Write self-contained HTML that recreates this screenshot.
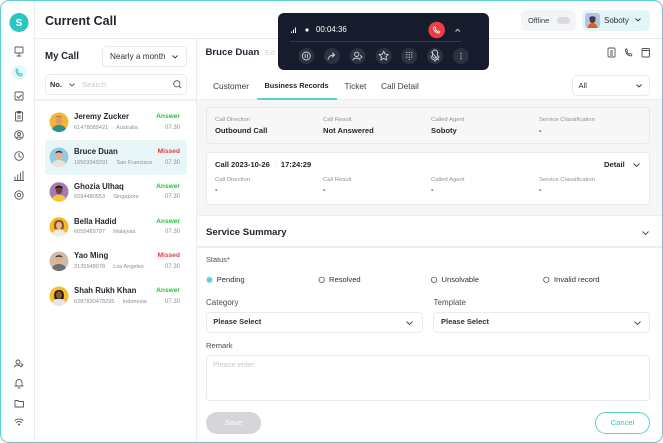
<!DOCTYPE html>
<html><head><meta charset="utf-8">
<style>
*{box-sizing:border-box;margin:0;padding:0}
html,body{width:663px;height:443px;overflow:hidden;background:#fff}
body{font-family:"Liberation Sans",Arial,sans-serif;color:#1f2430;position:relative}
.a{position:absolute;white-space:nowrap}
.frame{position:absolute;left:0;top:0;width:663px;height:443px;border:1.5px solid #5fd0d0;border-radius:9px;overflow:hidden}
.t{position:absolute;white-space:nowrap;line-height:12px}
.lbl{font-size:5.9px;color:#8d9199}
.val{font-size:7.6px;font-weight:bold;color:#23262f}
.nm{font-size:7.8px;font-weight:bold;color:#23262f}
.ph{font-size:5.6px;color:#8b8f97}
.st{font-size:6.6px;font-weight:bold;text-align:right}
.tm{font-size:6px;color:#8b8f97;text-align:right}
.box{position:absolute;border:1px solid #e9eaec;border-radius:4px;background:#fff}
svg{position:absolute;overflow:visible}
</style></head><body>
<div class="frame">

<!-- sidebar -->
<div class="a" style="left:33px;top:0;width:1px;height:443px;background:#ececee"></div>
<svg style="left:0;top:0" width="35" height="443">
  <circle cx="18" cy="21.5" r="9.5" fill="#2ec4c0"/>
  <text x="18" y="25" font-size="10" font-weight="bold" fill="#fff" text-anchor="middle" font-family="Liberation Sans">S</text>
  <g fill="none" stroke="#50545c" stroke-width="0.9" stroke-linecap="round" stroke-linejoin="round">
    <rect x="14" y="46" width="8" height="6" rx="0.8"/><path d="M16 55h4M18 52v3"/>
    <path d="M13 96l2-2 M13.5 91h9v8h-9z" stroke-width="0"/>
    <rect x="14" y="91" width="8" height="8" rx="1"/><path d="M16 95.5l1.5 1.5 3-3"/>
    <rect x="14.5" y="111" width="7" height="9" rx="1"/><path d="M16.5 110.5h3v1.5h-3z M16.5 115h3M16.5 117h3"/>
    <circle cx="18" cy="134" r="4.3"/><circle cx="18" cy="133" r="1.5"/><path d="M15.5 137c1-1.5 4-1.5 5 0"/>
    <circle cx="18" cy="155" r="4.3"/><path d="M18 152.5v2.7l1.7 1"/>
    <path d="M14 179v-3M16.7 179v-5M19.4 179v-7M22 179v-9M13.5 179.5h9"/>
    <circle cx="18" cy="194" r="4.2"/><circle cx="18" cy="194" r="1.7"/>
    <circle cx="17" cy="361" r="2"/><path d="M13.5 366c0.5-2.5 5.5-2.5 6.5 0M20 362.5l2 1.5-2 1.5"/>
    <path d="M15 385v-3.5a3 3 0 0 1 6 0v3.5zM14 385h8M17 387h2"/>
    <path d="M14 399.5h3l1 1h4.5v5.5h-8.5z"/>
    <path d="M14 419.5a6 6 0 0 1 8 0M15.5 421.5a3.5 3.5 0 0 1 5 0"/><circle cx="18" cy="423.5" r="0.6"/>
  </g>
  <circle cx="18" cy="71.5" r="7.5" fill="#e5f7f7"/>
  <path d="M15 68.5c0 4 2 6 5.5 6.5l1-1.5-1.8-1.2-1 0.8c-1-0.5-2-1.5-2.4-2.5l0.8-1-1.1-1.9z" fill="none" stroke="#3cc7c4" stroke-width="0.9" stroke-linejoin="round"/>
</svg>

<!-- header -->
<div class="t" style="left:44px;top:12.5px;font-size:12.5px;font-weight:bold;line-height:14px">Current Call</div>
<div class="a" style="left:34px;top:36.5px;width:629px;height:1px;background:#e7e8ea"></div>

<!-- offline / soboty -->
<div class="a" style="left:520px;top:9px;width:55px;height:21px;border-radius:5px;background:#f3f4f6"></div>
<div class="t" style="left:527px;top:13.5px;font-size:7.4px;color:#3a3d45">Offline</div>
<div class="a" style="left:556px;top:16px;width:12.5px;height:7px;border-radius:4px;background:#d9dadd"></div>
<div class="a" style="left:581px;top:9px;width:68px;height:21px;border-radius:5px;background:#e3f6f7"></div>
<svg style="left:584px;top:12px" width="15" height="15">
  <rect x="0" y="0" width="15" height="15" rx="3" fill="#b9c3de"/>
  <path d="M2.5 15c0.5-3.5 2.5-5 5-5s4.5 1.5 5 5z" fill="#d9631d"/>
  <circle cx="7.5" cy="7" r="3" fill="#5c3a22"/>
  <path d="M4 5.5c0.5-3 6.5-3 7 0z" fill="#243a8c"/>
</svg>
<div class="t" style="left:603px;top:13.5px;font-size:8px;color:#2c2f36">Soboty</div>
<svg style="left:634px;top:17px" width="6" height="4"><path d="M0.5 0.5l2.5 2.5 2.5-2.5" fill="none" stroke="#333" stroke-width="0.9"/></svg>

<!-- left panel -->
<div class="a" style="left:195px;top:37px;width:1px;height:406px;background:#ececee"></div>
<div class="t" style="left:44px;top:50px;font-size:9.7px;font-weight:bold;line-height:12px">My Call</div>
<div class="box" style="left:101px;top:45px;width:85px;height:21px;border-radius:5px"></div>
<div class="t" style="left:109px;top:49.5px;font-size:8.2px;color:#2c2f36">Nearly a month</div>
<svg style="left:171px;top:54px" width="6" height="4"><path d="M0.5 0.5l2.5 2.5 2.5-2.5" fill="none" stroke="#333" stroke-width="0.9"/></svg>
<div class="box" style="left:44px;top:73px;width:142px;height:21px;border-radius:5px"></div>
<div class="t" style="left:49px;top:77.5px;font-size:7.4px;font-weight:bold;color:#2c2f36">No.</div>
<svg style="left:68px;top:82px" width="6" height="4"><path d="M0.5 0.5l2.5 2.5 2.5-2.5" fill="none" stroke="#555" stroke-width="0.9"/></svg>
<div class="t" style="left:81px;top:77.5px;font-size:7.6px;color:#c6c8cd">Search</div>
<svg style="left:172px;top:79px" width="9" height="9"><circle cx="3.8" cy="3.8" r="3.1" fill="none" stroke="#555" stroke-width="0.9"/><path d="M6.2 6.2l2 2" stroke="#555" stroke-width="0.9"/></svg>
<div class="a" style="left:34px;top:97.5px;width:161px;height:2px;background:#eeeff1"></div>

<!-- highlighted -->
<div class="a" style="left:44px;top:139px;width:142px;height:35px;border-radius:4px;background:#e8f6f7"></div>

<!-- list avatars -->
<svg style="left:0;top:0" width="195" height="443">
  <g>
    <circle cx="58" cy="121" r="9.5" fill="#f5b638"/>
    <path d="M51 128c1.5-3 4-4 7-4s5.5 1 7 4a9.5 9.5 0 0 1-14 0z" fill="#2f8f86"/>
    <ellipse cx="58" cy="119.5" rx="3.3" ry="4" fill="#d99a73"/><path d="M54.5 117.5c0-3 7-3 7 0l-0.5-1.5c-2-1.5-4.5-1.5-6 0z" fill="#2a1d14"/>
  </g>
  <g>
    <circle cx="58" cy="156" r="9.5" fill="#93cbe0"/>
    <path d="M51 163c1.5-3 4-4 7-4s5.5 1 7 4a9.5 9.5 0 0 1-14 0z" fill="#e7e2da"/>
    <ellipse cx="58" cy="154.5" rx="3.3" ry="4" fill="#e2b08e"/><path d="M54.5 152.5c0-3.5 7-3.5 7 0c-2-1.5-5-1.5-7 0z" fill="#3a2a1e"/>
  </g>
  <g>
    <circle cx="58" cy="190.7" r="9.5" fill="#a77aae"/>
    <path d="M51 197.7c1.5-3 4-4 7-4s5.5 1 7 4a9.5 9.5 0 0 1-14 0z" fill="#f2c838"/>
    <ellipse cx="58" cy="189.2" rx="3.3" ry="4" fill="#6b4430"/><path d="M54 188c0-4.5 8-4.5 8 0c-2-2-6-2-8 0z" fill="#1d1410"/>
  </g>
  <g>
    <circle cx="58" cy="225.7" r="9.5" fill="#f4bb27"/>
    <path d="M51 232.7c1.5-3 4-4 7-4s5.5 1 7 4a9.5 9.5 0 0 1-14 0z" fill="#f0ede6"/>
    <path d="M53.5 228c-1-6 0-9 4.5-9s5.5 3 4.5 9z" fill="#8a4a22"/>
    <ellipse cx="58" cy="224.5" rx="3" ry="3.7" fill="#e8b48c"/>
  </g>
  <g>
    <circle cx="58" cy="260" r="9.5" fill="#cdbcac"/>
    <path d="M51 267c1.5-3 4-4 7-4s5.5 1 7 4a9.5 9.5 0 0 1-14 0z" fill="#6d6f72"/>
    <ellipse cx="58" cy="258.5" rx="3.3" ry="4" fill="#e0ae88"/><path d="M54.5 256.5c0-3 7-3 7 0c-2-1-5-1-7 0z" fill="#3e2d22"/>
  </g>
  <g>
    <circle cx="58" cy="295" r="9.5" fill="#f4c12c"/>
    <path d="M51 302c1.5-3 4-4 7-4s5.5 1 7 4a9.5 9.5 0 0 1-14 0z" fill="#e9e6e0"/>
    <path d="M53.5 298c-1-6 0-9 4.5-9s5.5 3 4.5 9z" fill="#2a1b14"/>
    <ellipse cx="58" cy="294" rx="3" ry="3.7" fill="#8a5a3e"/>
  </g>
</svg>

<!-- list text -->
<div class="t nm" style="left:73px;top:110px">Jeremy Zucker</div>
<div class="t ph" style="left:73px;top:120.7px">61478089421 <span style="color:#c8cacf">&nbsp;·&nbsp;</span> Australia</div>
<div class="t st" style="left:139px;width:40px;top:110px;color:#26c23f">Answer</div>
<div class="t tm" style="left:139px;width:40px;top:120.7px">07.30</div>

<div class="t nm" style="left:73px;top:145px">Bruce Duan</div>
<div class="t ph" style="left:73px;top:155.7px">16503349291 <span style="color:#c8cacf">&nbsp;·&nbsp;</span> San Francisco</div>
<div class="t st" style="left:139px;width:40px;top:145px;color:#e53a3a">Missed</div>
<div class="t tm" style="left:139px;width:40px;top:155.7px">07.30</div>

<div class="t nm" style="left:73px;top:179.7px">Ghozia Ulhaq</div>
<div class="t ph" style="left:73px;top:190.4px">6594480553 <span style="color:#c8cacf">&nbsp;·&nbsp;</span> Singapore</div>
<div class="t st" style="left:139px;width:40px;top:179.7px;color:#26c23f">Answer</div>
<div class="t tm" style="left:139px;width:40px;top:190.4px">07.30</div>

<div class="t nm" style="left:73px;top:214.7px">Bella Hadid</div>
<div class="t ph" style="left:73px;top:225.4px">6055489787 <span style="color:#c8cacf">&nbsp;·&nbsp;</span> Malaysia</div>
<div class="t st" style="left:139px;width:40px;top:214.7px;color:#26c23f">Answer</div>
<div class="t tm" style="left:139px;width:40px;top:225.4px">07.30</div>

<div class="t nm" style="left:73px;top:249px">Yao Ming</div>
<div class="t ph" style="left:73px;top:259.7px">2135548978 <span style="color:#c8cacf">&nbsp;·&nbsp;</span> Los Angeles</div>
<div class="t st" style="left:139px;width:40px;top:249px;color:#e53a3a">Missed</div>
<div class="t tm" style="left:139px;width:40px;top:259.7px">07.30</div>

<div class="t nm" style="left:73px;top:284px">Shah Rukh Khan</div>
<div class="t ph" style="left:73px;top:294.7px">6287830478295 <span style="color:#c8cacf">&nbsp;·&nbsp;</span> Indonesia</div>
<div class="t st" style="left:139px;width:40px;top:284px;color:#26c23f">Answer</div>
<div class="t tm" style="left:139px;width:40px;top:294.7px">07.30</div>

<!-- right panel header -->
<div class="t" style="left:204.5px;top:45.7px;font-size:9.6px;font-weight:bold">Bruce Duan</div>
<div class="t" style="left:264px;top:46.5px;font-size:7px;color:#d0d2d6">Ext</div>
<svg style="left:605px;top:46px" width="50" height="12" fill="none" stroke="#50545c" stroke-width="0.9" stroke-linejoin="round">
  <rect x="2" y="1" width="7" height="9" rx="1"/><path d="M4 4h3M4 6h3M4 8h3"/>
  <path d="M19.5 2.5c0 4 2 6 5.5 6.5l1-1.5-1.8-1.2-1 0.8c-1-0.5-2-1.5-2.4-2.5l0.8-1-1.1-1.9z"/>
  <rect x="36" y="1.5" width="7.5" height="8.5" rx="1"/><path d="M36 3.5h7.5"/>
</svg>

<!-- tabs -->
<div class="t" style="left:212px;top:79px;font-size:8.3px;color:#3a3d45">Customer</div>
<div class="t" style="left:263.5px;top:79px;font-size:7.35px;font-weight:bold;color:#23262f">Business Records</div>
<div class="t" style="left:343.5px;top:79px;font-size:8.3px;color:#3a3d45">Ticket</div>
<div class="t" style="left:380px;top:79px;font-size:8.3px;color:#3a3d45">Call Detail</div>
<div class="box" style="left:571px;top:74px;width:78px;height:20.5px;border-radius:5px"></div>
<div class="t" style="left:577.5px;top:78.5px;font-size:7.6px;color:#2c2f36">All</div>
<svg style="left:635px;top:82.5px" width="6" height="4"><path d="M0.5 0.5l2.5 2.5 2.5-2.5" fill="none" stroke="#333" stroke-width="0.9"/></svg>
<div class="a" style="left:196px;top:97.5px;width:467px;height:1.5px;background:#ebecee"></div>
<div class="a" style="left:256px;top:97px;width:80px;height:2px;background:#5ccfcf"></div>

<!-- gray area -->
<div class="a" style="left:196px;top:99px;width:467px;height:115px;background:#f6f6f8"></div>
<div class="box" style="left:205px;top:106px;width:444px;height:37px;background:#f7f7f8;border-color:#e8e9eb"></div>
<div class="t lbl" style="left:214px;top:112.5px">Call Direction</div>
<div class="t lbl" style="left:322px;top:112.5px">Call Result</div>
<div class="t lbl" style="left:430px;top:112.5px">Called Agent</div>
<div class="t lbl" style="left:538px;top:112.5px">Service Classification</div>
<div class="t val" style="left:214px;top:123.5px">Outbound Call</div>
<div class="t val" style="left:322px;top:123.5px">Not Answered</div>
<div class="t val" style="left:430px;top:123.5px">Soboty</div>
<div class="t val" style="left:538px;top:123.5px">-</div>

<div class="box" style="left:205px;top:150.5px;width:444px;height:53px;border-color:#e8e9eb"></div>
<div class="t val" style="left:214px;top:158px">Call 2023-10-26 <span style="color:#c8cacf;font-weight:normal">&nbsp;·&nbsp;</span> 17:24:29</div>
<div class="t val" style="left:603px;top:158px">Detail</div>
<svg style="left:631.5px;top:162px" width="7" height="4"><path d="M0.5 0.5l3 3 3-3" fill="none" stroke="#333" stroke-width="0.9"/></svg>
<div class="t lbl" style="left:214px;top:172.5px">Call Direction</div>
<div class="t lbl" style="left:322px;top:172.5px">Call Result</div>
<div class="t lbl" style="left:430px;top:172.5px">Called Agent</div>
<div class="t lbl" style="left:538px;top:172.5px">Service Classification</div>
<div class="t val" style="left:214px;top:183px">-</div>
<div class="t val" style="left:322px;top:183px">-</div>
<div class="t val" style="left:430px;top:183px">-</div>
<div class="t val" style="left:538px;top:183px">-</div>

<!-- service summary -->
<div class="a" style="left:196px;top:214px;width:467px;height:1px;background:#ededef"></div>
<div class="t" style="left:205px;top:225.5px;font-size:9.6px;font-weight:bold;color:#23262f">Service Summary</div>
<svg style="left:640.5px;top:229.5px" width="7" height="4"><path d="M0.5 0.5l3 3 3-3" fill="none" stroke="#444" stroke-width="0.9"/></svg>
<div class="a" style="left:196px;top:245px;width:467px;height:1.5px;background:#ebecee"></div>

<div class="t" style="left:205px;top:253px;font-size:7.4px;color:#4a4d55">Status*</div>
<svg style="left:0;top:0" width="663" height="443">
  <circle cx="208.4" cy="278.8" r="2.6" fill="#5ccfcf"/><circle cx="208.4" cy="278.8" r="3.2" fill="none" stroke="#bfecec" stroke-width="0.8"/>
  <circle cx="320.7" cy="278.8" r="2.7" fill="none" stroke="#555" stroke-width="0.8"/>
  <circle cx="433" cy="278.8" r="2.7" fill="none" stroke="#555" stroke-width="0.8"/>
  <circle cx="545.3" cy="278.8" r="2.7" fill="none" stroke="#555" stroke-width="0.8"/>
</svg>
<div class="t" style="left:215.7px;top:272.8px;font-size:7.6px;color:#2c2f36">Pending</div>
<div class="t" style="left:328px;top:272.8px;font-size:7.6px;color:#2c2f36">Resolved</div>
<div class="t" style="left:440.5px;top:272.8px;font-size:7.6px;color:#2c2f36">Unsolvable</div>
<div class="t" style="left:553px;top:272.8px;font-size:7.6px;color:#2c2f36">Invalid record</div>

<div class="t" style="left:205px;top:295.7px;font-size:8px;color:#4a4d55">Category</div>
<div class="t" style="left:432.5px;top:295.7px;font-size:8px;color:#4a4d55">Template</div>
<div class="box" style="left:205px;top:311px;width:216.5px;height:20.5px"></div>
<div class="box" style="left:432.3px;top:311px;width:216.5px;height:20.5px"></div>
<div class="t" style="left:212.3px;top:315.3px;font-size:7.5px;font-weight:bold;color:#2c2f36">Please Select</div>
<div class="t" style="left:440px;top:315.3px;font-size:7.5px;font-weight:bold;color:#2c2f36">Please Select</div>
<svg style="left:405px;top:319.5px" width="7" height="4"><path d="M0.5 0.5l3 3 3-3" fill="none" stroke="#444" stroke-width="0.9"/></svg>
<svg style="left:633px;top:319.5px" width="7" height="4"><path d="M0.5 0.5l3 3 3-3" fill="none" stroke="#444" stroke-width="0.9"/></svg>

<div class="t" style="left:205px;top:339px;font-size:7.6px;color:#4a4d55">Remark</div>
<div class="box" style="left:205px;top:354px;width:444px;height:45.5px"></div>
<div class="t" style="left:212px;top:358px;font-size:7.4px;color:#c6c8cd">Please enter</div>

<div class="a" style="left:205px;top:410.5px;width:55px;height:22px;border-radius:11px;background:#d5d6da"></div>
<div class="t" style="left:205px;width:55px;top:415.5px;font-size:7.6px;color:#fff;text-align:center">Save</div>
<div class="a" style="left:594px;top:410.5px;width:55px;height:22px;border-radius:11px;border:1px solid #5ccfcf;background:#fff"></div>
<div class="t" style="left:594px;width:55px;top:415.5px;font-size:7.6px;color:#3cc6c4;text-align:center">Cancel</div>

<!-- call control overlay -->
<div class="a" style="left:277px;top:11.5px;width:211px;height:57px;border-radius:6px;background:#171c2c"></div>
<svg style="left:0;top:0" width="663" height="80">
  <g fill="#fff">
    <rect x="290" y="30.5" width="1" height="1.5"/><rect x="292" y="28.5" width="1" height="3.5"/><rect x="294" y="26.5" width="1" height="5.5"/>
    <circle cx="306" cy="29" r="1.6"/>
  </g>
  <circle cx="435.7" cy="29" r="8.3" fill="#ee3d43"/>
  <path d="M432.5 26.5c0 3 2.2 5.3 5.5 5.6l0.9-1.3-1.6-1-0.8 0.6c-0.9-0.4-1.7-1.2-2.1-2.1l0.6-0.8-0.9-1.7z" fill="none" stroke="#fff" stroke-width="0.8" stroke-linejoin="round"/>
  <path d="M454.5 30.5l2.2-2.2 2.2 2.2" fill="none" stroke="#cfd2d8" stroke-width="0.9"/>
  <rect x="289" y="40" width="171" height="0.8" fill="#3a4052"/>
  <g fill="#2c3242">
    <circle cx="305.3" cy="55" r="8"/><circle cx="331" cy="55" r="8"/><circle cx="356.7" cy="55" r="8"/>
    <circle cx="382.7" cy="55" r="8"/><circle cx="408.3" cy="55" r="8"/><circle cx="434" cy="55" r="8"/><circle cx="460" cy="55" r="8"/>
  </g>
  <g fill="none" stroke="#d5d8de" stroke-width="0.9" stroke-linecap="round" stroke-linejoin="round">
    <circle cx="305.3" cy="55" r="4"/><path d="M304.2 53.3v3.4M306.4 53.3v3.4"/>
    <path d="M327 58.5c0.5-3 2.5-4.5 6.5-4.5M331.5 52l2 2-2 2"/>
    <circle cx="355.7" cy="53.3" r="2.2"/><path d="M352 59c0.5-2.5 6.5-2.5 7 0M359.5 54.5l1.5 1.3-1.5 1.3"/>
    <path d="M382.7 50.2l1.4 3 3.2 0.4-2.4 2.2 0.7 3.2-2.9-1.6-2.9 1.6 0.7-3.2-2.4-2.2 3.2-0.4z"/>
    <path d="M431.5 51.5v3a2.5 2.5 0 0 0 5 0v-3a2.5 2.5 0 0 0-5 0zM430 55a4 4 0 0 0 8 0M434 59v1.5M430.5 51l7 8"/>
  </g>
  <g fill="#d5d8de">
    <circle cx="405.8" cy="51.5" r="0.6"/><circle cx="408.3" cy="51.5" r="0.6"/><circle cx="410.8" cy="51.5" r="0.6"/>
    <circle cx="405.8" cy="53.8" r="0.6"/><circle cx="408.3" cy="53.8" r="0.6"/><circle cx="410.8" cy="53.8" r="0.6"/>
    <circle cx="405.8" cy="56.1" r="0.6"/><circle cx="408.3" cy="56.1" r="0.6"/><circle cx="410.8" cy="56.1" r="0.6"/>
    <circle cx="408.3" cy="58.4" r="0.6"/>
    <circle cx="460" cy="52.3" r="0.65"/><circle cx="460" cy="55" r="0.65"/><circle cx="460" cy="57.7" r="0.65"/>
  </g>
</svg>
<div class="t" style="left:315px;top:23px;font-size:7.9px;color:#fff">00:04:36</div>

</div>
</body></html>
